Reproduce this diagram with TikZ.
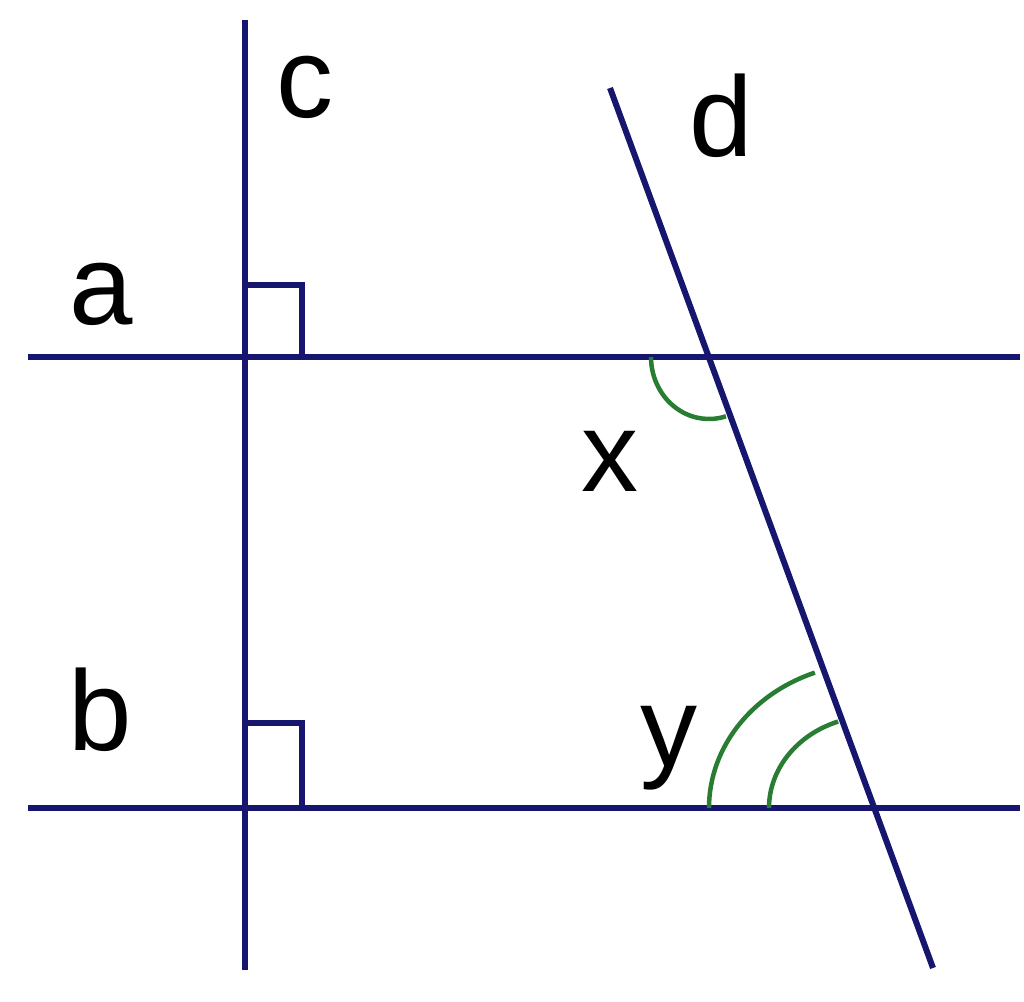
\documentclass[tikz,border=0pt]{standalone}
\usepackage{fontspec}
\setmainfont{Liberation Sans}
\definecolor{navy}{RGB}{22,22,110}
\definecolor{arcgreen}{RGB}{40,125,50}
\begin{document}
\begin{tikzpicture}[x=1pt,y=1pt,
  ln/.style={draw=navy,line width=6pt},
  mk/.style={draw=navy,line width=5.5pt},
  ang/.style={draw=arcgreen,line width=4.5pt},
  lbl/.style={inner sep=0pt,anchor=base,font=\fontsize{114}{136}\selectfont}]
\useasboundingbox (0,0) rectangle (1024,1001);
% line ends
\coordinate (c1) at (245,981);
\coordinate (c2) at (245,31);
\coordinate (a1) at (28,644);
\coordinate (a2) at (1020,644);
\coordinate (b1) at (28,193);
\coordinate (b2) at (1020,193);
\coordinate (d1) at (610,913);
\coordinate (d2) at (933,33);
\coordinate (A) at (709,644);
\coordinate (B) at (874,193);
\coordinate (Ca) at (245,644);
\coordinate (Cb) at (245,193);
% lines
\draw[ln] (c1) -- (c2);
\draw[ln] (a1) -- (a2);
\draw[ln] (b1) -- (b2);
\draw[ln] (d1) -- (d2);
% right angle marks
\draw[mk] ([xshift=57pt]Ca) -- ++(0,72) -- ([yshift=72pt]Ca);
\draw[mk] ([xshift=57pt]Cb) -- ++(0,85) -- ([yshift=85pt]Cb);
% angle arcs
\draw[ang] ([xshift=-58pt]A) arc[start angle=180,end angle=287,x radius=58,y radius=62];
\draw[ang] ([xshift=-165pt]B) arc[start angle=180,end angle=111,x radius=165,y radius=145];
\draw[ang] ([xshift=-105pt]B) arc[start angle=180,end angle=110,x radius=105,y radius=92];
% labels
\node[lbl] (lc) at (305,883) {c};
\node[lbl] (ld) at (721,844) {d};
\node[lbl] (la) at (101,676) {a};
\node[lbl] (lb) at (100,251) {b};
\node[lbl] (lx) at (610,509) {x};
\node[lbl] (ly) at (669,235) {y};
\end{tikzpicture}
\end{document}
